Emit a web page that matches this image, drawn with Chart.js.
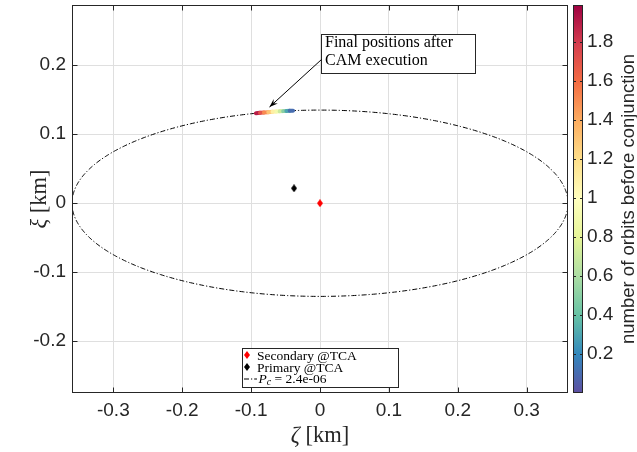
<!DOCTYPE html>
<html><head><meta charset="utf-8">
<script src="https://cdn.jsdelivr.net/npm/chart.js@4/dist/chart.umd.min.js"></script>
<style>html,body{margin:0;padding:0;background:#fff}#wrap{width:637px;height:452px;position:relative}</style>
</head><body><div id="wrap"><canvas id="c" width="637" height="452"></canvas></div>
<script>
// ---------------- data ----------------
const xTicks = [-0.3, -0.2, -0.1, 0, 0.1, 0.2, 0.3];
const xTickLabels = ['-0.3', '-0.2', '-0.1', '0', '0.1', '0.2', '0.3'];
const yTicks = [-0.2, -0.1, 0, 0.1, 0.2];
const yTickLabels = ['-0.2', '-0.1', '0', '0.1', '0.2'];
const cTicks = [0.2, 0.4, 0.6, 0.8, 1.0, 1.2, 1.4, 1.6, 1.8];
const cTickLabels = ['0.2', '0.4', '0.6', '0.8', '1', '1.2', '1.4', '1.6', '1.8'];
const xRange = [-0.36, 0.36];
const yRange = [-0.275, 0.2873];
const cRange = [0, 1.99];
const secondaryTCA = [{x: 0, y: 0}];
const primaryTCA = [{x: -0.0377, y: 0.0217}];
const ellipseSemiAxes = [0.36, 0.135];   // Pc ellipse half-widths (zeta, xi)
const camX = [-0.0930, -0.0871, -0.0813, -0.0751, -0.0690, -0.0632, -0.0585, -0.0535, -0.0488, -0.0440, -0.0391];
const camY = [0.1304, 0.1310, 0.1315, 0.1320, 0.1325, 0.1329, 0.1332, 0.1335, 0.1338, 0.1340, 0.1342];
const camOrbits = [1.99, 1.8, 1.6, 1.4, 1.2, 1.0, 0.8, 0.6, 0.4, 0.2, 0.01];
const labels = ['Secondary @TCA', 'Primary @TCA', '2.4e-06'];
const annotationLines = ['Final positions after', 'CAM execution'];
const cLabel = 'number of orbits before conjunction';

// ---------------- styling helpers ----------------
const fontSans = '"Liberation Sans", Arial, sans-serif';
const fontSerif = '"Liberation Serif", "Times New Roman", serif';
const ink = '#262626';
const spectral = ['#5e4fa2','#3288bd','#66c2a5','#abdda4','#e6f598','#ffffbf','#fee08b','#fdae61','#f46d43','#d53e4f','#9e0142'];
function hex(h){return [parseInt(h.slice(1,3),16),parseInt(h.slice(3,5),16),parseInt(h.slice(5,7),16)];}
function cmap(t){
  let u = (t - cRange[0]) / (cRange[1] - cRange[0]);
  u = Math.max(0, Math.min(1, u)) * (spectral.length - 1);
  const i = Math.min(Math.floor(u), spectral.length - 2), f = u - i;
  const a = hex(spectral[i]), b = hex(spectral[i+1]);
  return 'rgb(' + a.map((v,k)=>Math.round(v + (b[k]-v)*f)).join(',') + ')';
}
function diamond(color){
  const c = document.createElement('canvas'); c.width = 6; c.height = 8;
  const g = c.getContext('2d'); g.fillStyle = color;
  g.beginPath(); g.moveTo(3,0); g.lineTo(6,4); g.lineTo(3,8); g.lineTo(0,4); g.closePath(); g.fill();
  return c;
}
const redD = diamond('#ff0000'), blackD = diamond('#000000');

const ellipsePts = [];
for (let k = 0; k <= 720; k++) {
  const th = k / 720 * 2 * Math.PI;
  ellipsePts.push({x: ellipseSemiAxes[0] * Math.cos(th), y: ellipseSemiAxes[1] * Math.sin(th)});
}
const camPts = camX.map((x, i) => ({x, y: camY[i]}));

function zeroPad(s){ s.paddingTop = 0; s.paddingBottom = 0; s.paddingLeft = 0; s.paddingRight = 0; }

const dash = [5, 2, 1.2, 2];

const overlay = {
  id: 'overlay',
  afterDraw(chart) {
    const ctx = chart.ctx, a = chart.chartArea;
    const xs = chart.scales.x, ys = chart.scales.y, cs = chart.scales.c;
    ctx.save();
    // axes box
    ctx.strokeStyle = ink; ctx.lineWidth = 1;
    const L = Math.round(a.left) + 0.5, R = Math.round(a.right) - 0.5, T = Math.round(a.top) + 0.5, B = Math.round(a.bottom) - 0.5;
    ctx.strokeRect(L, T, R - L, B - T);
    // inward ticks
    ctx.beginPath();
    xTicks.forEach(v => { const p = Math.round(xs.getPixelForValue(v)) + 0.5; ctx.moveTo(p, B); ctx.lineTo(p, B - 5); ctx.moveTo(p, T); ctx.lineTo(p, T + 5); });
    yTicks.forEach(v => { const p = Math.round(ys.getPixelForValue(v)) + 0.5; ctx.moveTo(L, p); ctx.lineTo(L + 5, p); ctx.moveTo(R, p); ctx.lineTo(R - 5, p); });
    ctx.stroke();

    // colorbar
    const bx0 = cs.left + 5, bx1 = cs.left + 15;
    const by0 = cs.getPixelForValue(cRange[1]), by1 = cs.getPixelForValue(cRange[0]);
    const grd = ctx.createLinearGradient(0, by1, 0, by0);
    spectral.forEach((c, i) => grd.addColorStop(i / (spectral.length - 1), c));
    ctx.fillStyle = grd; ctx.fillRect(bx0, by0, bx1 - bx0, by1 - by0);
    ctx.strokeStyle = ink; ctx.lineWidth = 1;
    ctx.strokeRect(Math.round(bx0) + 0.5, Math.round(by0) + 0.5, Math.round(bx1 - bx0) - 1, Math.round(by1 - by0) - 1);
    ctx.beginPath();
    cTicks.forEach(v => { const p = Math.round(cs.getPixelForValue(v)) + 0.5; ctx.moveTo(bx0, p); ctx.lineTo(bx0 + 3, p); ctx.moveTo(bx1, p); ctx.lineTo(bx1 - 3, p); });
    ctx.stroke();
    // colorbar label
    ctx.save();
    ctx.translate(629, (a.top + a.bottom) / 2); ctx.rotate(-Math.PI / 2);
    ctx.fillStyle = ink; ctx.font = '18.5px ' + fontSans; ctx.textAlign = 'center'; ctx.textBaseline = 'middle';
    ctx.fillText(cLabel, 0, 0);
    ctx.restore();

    // axis labels (serif, italic greek)
    function mathLabel(greek, rest, cx, cy, rot) {
      ctx.save(); ctx.translate(cx, cy); ctx.rotate(rot);
      ctx.fillStyle = ink; ctx.textBaseline = 'middle';
      ctx.font = 'italic 22.5px ' + fontSerif; const w1 = ctx.measureText(greek).width;
      ctx.font = '22.5px ' + fontSerif; const w2 = ctx.measureText(rest).width;
      let x = -(w1 + w2) / 2;
      ctx.font = 'italic 22.5px ' + fontSerif; ctx.textAlign = 'left'; ctx.fillText(greek, x, 0);
      ctx.font = '22.5px ' + fontSerif; ctx.fillText(rest, x + w1, 0);
      ctx.restore();
    }
    mathLabel('\u03B6', ' [km]', (a.left + a.right) / 2, 436, 0);
    mathLabel('\u03BE', ' [km]', 40, (a.top + a.bottom) / 2, -Math.PI / 2);

    // legend
    const lx = 242.5, ly = 348.5, lw = 156, lh = 39;
    ctx.fillStyle = '#fff'; ctx.fillRect(lx, ly, lw, lh);
    ctx.strokeStyle = ink; ctx.lineWidth = 1; ctx.strokeRect(lx, ly, lw, lh);
    const base = [359.5, 371.5, 383];
    ctx.drawImage(redD, 247 - 3, base[0] - 8.5);
    ctx.drawImage(blackD, 247 - 3, base[1] - 8.5);
    ctx.save(); ctx.strokeStyle = '#000'; ctx.lineWidth = 1; ctx.setLineDash(dash);
    ctx.beginPath(); ctx.moveTo(244, base[2] - 4); ctx.lineTo(257, base[2] - 4); ctx.stroke(); ctx.restore();
    ctx.fillStyle = '#000'; ctx.textAlign = 'left'; ctx.textBaseline = 'alphabetic';
    ctx.font = '13.5px ' + fontSerif;
    ctx.fillText(labels[0], 257, base[0]);
    ctx.fillText(labels[1], 257, base[1]);
    let px = 258.5;
    ctx.font = 'italic 13.5px ' + fontSerif; ctx.fillText('P', px, base[2]); px += ctx.measureText('P').width;
    ctx.font = 'italic 10px ' + fontSerif; ctx.fillText('c', px, base[2] + 2); px += ctx.measureText('c').width;
    ctx.font = '13.5px ' + fontSerif; ctx.fillText(' = ' + labels[2], px, base[2]);

    // annotation
    const ax = 321.5, ay = 34.5, aw = 154, ah = 39;
    ctx.fillStyle = '#fff'; ctx.fillRect(ax, ay, aw, ah);
    ctx.strokeStyle = ink; ctx.strokeRect(ax, ay, aw, ah);
    ctx.fillStyle = '#000'; ctx.font = '16px ' + fontSerif; ctx.textBaseline = 'alphabetic';
    ctx.fillText(annotationLines[0], 325, 47);
    ctx.fillText(annotationLines[1], 325, 65);
    // arrow
    const x0 = 321.5, y0 = 59.5, x1 = 269.5, y1 = 107;
    ctx.strokeStyle = '#000'; ctx.lineWidth = 1;
    ctx.beginPath(); ctx.moveTo(x0, y0); ctx.lineTo(x1, y1); ctx.stroke();
    const ang = Math.atan2(y1 - y0, x1 - x0), hl = 9, hw = 0.35;
    ctx.beginPath();
    ctx.moveTo(x1, y1);
    ctx.lineTo(x1 - hl * Math.cos(ang - hw), y1 - hl * Math.sin(ang - hw));
    ctx.lineTo(x1 - hl * 0.6 * Math.cos(ang), y1 - hl * 0.6 * Math.sin(ang));
    ctx.lineTo(x1 - hl * Math.cos(ang + hw), y1 - hl * Math.sin(ang + hw));
    ctx.closePath(); ctx.fillStyle = '#000'; ctx.fill();
    ctx.restore();
  }
};

new Chart(document.getElementById('c'), {
  type: 'scatter',
  data: {
    datasets: [
      { label: 'CAM', data: camPts, showLine: true, pointRadius: 0, borderWidth: 4, borderCapStyle: 'round',
        borderColor: cmap(1),
        segment: { borderColor: c => cmap((camOrbits[c.p0DataIndex] + camOrbits[c.p1DataIndex]) / 2) } },
      { label: labels[0], data: secondaryTCA, pointStyle: redD, pointRadius: 3, backgroundColor: '#f00', borderColor: '#f00' },
      { label: labels[1], data: primaryTCA, pointStyle: blackD, pointRadius: 3, backgroundColor: '#000', borderColor: '#000' },
      { label: 'Pc', data: ellipsePts, showLine: true, pointRadius: 0, borderWidth: 1, borderColor: '#000', borderDash: dash, tension: 0 }
    ]
  },
  options: {
    responsive: false, animation: false, devicePixelRatio: 1,
    layout: { padding: { top: 5, left: 0, right: 0, bottom: 0 } },
    plugins: { legend: { display: false }, tooltip: { enabled: false } },
    scales: {
      x: {
        type: 'linear', position: 'bottom', min: xRange[0], max: xRange[1],
        afterBuildTicks: s => { s.ticks = xTicks.map(v => ({value: v})); },
        afterFit: s => { s.height = 59; zeroPad(s); },
        ticks: { callback: (v) => xTickLabels[xTicks.indexOf(v)] ?? '', font: { family: fontSans, size: 19 }, color: ink, padding: 6, maxRotation: 0, autoSkip: false },
        grid: { color: '#dfdfdf', lineWidth: 1, drawTicks: false },
        border: { display: false }
      },
      y: {
        type: 'linear', position: 'left', min: yRange[0], max: yRange[1],
        afterBuildTicks: s => { s.ticks = yTicks.map(v => ({value: v})); },
        afterFit: s => { s.width = 72; zeroPad(s); },
        ticks: { callback: (v) => yTickLabels[yTicks.indexOf(v)] ?? '', font: { family: fontSans, size: 19 }, color: ink, padding: 6, autoSkip: false },
        grid: { color: '#dfdfdf', lineWidth: 1, drawTicks: false },
        border: { display: false }
      },
      c: {
        type: 'linear', position: 'right', axis: 'y', min: cRange[0], max: cRange[1],
        afterBuildTicks: s => { s.ticks = cTicks.map(v => ({value: v})); },
        afterFit: s => { s.width = 69; zeroPad(s); },
        ticks: { callback: (v) => cTickLabels[cTicks.findIndex(t => Math.abs(t - v) < 1e-9)] ?? '', font: { family: fontSans, size: 19 }, color: ink, padding: 19, autoSkip: false },
        grid: { display: false, drawTicks: false, drawOnChartArea: false },
        border: { display: false }
      }
    }
  },
  plugins: [overlay]
});
</script></body></html>
